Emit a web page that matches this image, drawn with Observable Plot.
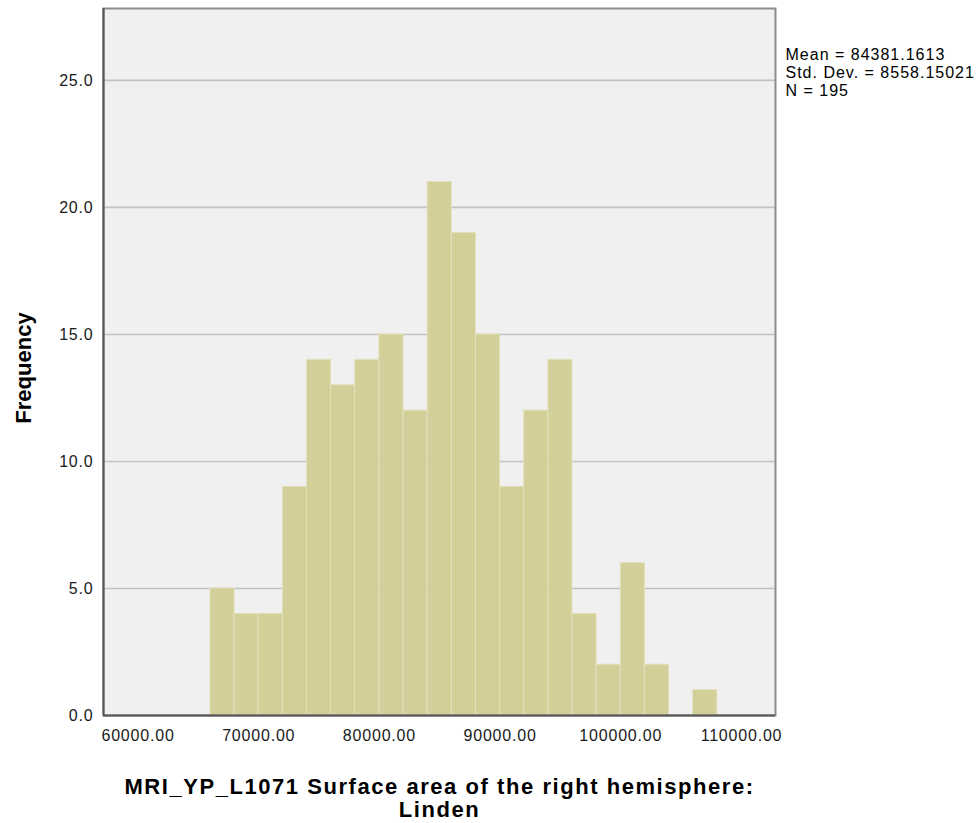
<!DOCTYPE html>
<html>
<head>
<meta charset="utf-8">
<script src="https://cdn.jsdelivr.net/npm/d3@7"></script>
<script src="https://cdn.jsdelivr.net/npm/@observablehq/plot@0.6"></script>
<style>
  html, body { margin: 0; padding: 0; background: #ffffff; }
  svg text { letter-spacing: 0.8px; }
</style>
</head>
<body>
<div id="chart"></div>
<script>
// ---- data ----
const binLower = [66000, 68000, 70000, 72000, 74000, 76000, 78000, 80000, 82000, 84000, 86000,
                  88000, 90000, 92000, 94000, 96000, 98000, 100000, 102000, 104000, 106000];
const binUpper = [68000, 70000, 72000, 74000, 76000, 78000, 80000, 82000, 84000, 86000, 88000,
                  90000, 92000, 94000, 96000, 98000, 100000, 102000, 104000, 106000, 108000];
const counts   = [5, 4, 4, 9, 14, 13, 14, 15, 12, 21, 19, 15, 9, 12, 14, 4, 2, 6, 2, 0, 1];
const xTicks = [60000, 70000, 80000, 90000, 100000, 110000];
const yTicks = [0, 5, 10, 15, 20, 25];
const xDomain = [57140, 112820];
const yDomain = [0, 27.83];
const statsLines = ["Mean = 84381.1613", "Std. Dev. = 8558.15021", "N = 195"];
const xTitle = "MRI_YP_L1071 Surface area of the right hemisphere:\nLinden";
const yTitle = "Frequency";

const bins = binLower.map((lo, i) => ({x1: lo, x2: binUpper[i], count: counts[i]}));

const chart = Plot.plot({
  width: 978,
  height: 823,
  marginLeft: 103,
  marginRight: 203,
  marginTop: 8,
  marginBottom: 108,
  style: {fontFamily: "'Liberation Sans', Arial, sans-serif", fontSize: "16px", color: "#1a1a1a", background: "#ffffff"},
  x: {domain: xDomain, ticks: xTicks, tickFormat: d => d.toFixed(2), tickSize: 0, tickPadding: 14, label: null},
  y: {domain: yDomain, ticks: yTicks, tickFormat: d => d.toFixed(1), tickSize: 0, tickPadding: 10, label: null},
  marks: [
    Plot.frame({fill: "#f0f0f0", stroke: null}),
    Plot.ruleY(yTicks.filter(d => d > 0), {stroke: "#c2c2c2", strokeWidth: 1.6}),
    Plot.rectY(bins.filter(d => d.count > 0), {x1: "x1", x2: "x2", y: "count", fill: "#d3cf98", stroke: "#e3e0bd", strokeWidth: 1}),
    Plot.frame({stroke: "#8c8c8c", strokeWidth: 2}),
    Plot.ruleY([yDomain[0]], {stroke: "#555555", strokeWidth: 2}),
    Plot.ruleX([xDomain[0]], {stroke: "#555555", strokeWidth: 2}),
    Plot.text([yTitle], {frameAnchor: "left", dx: -80, dy: 6, rotate: -90, textAnchor: "middle", fontWeight: "bold", fontSize: 22, fill: "#000"}),
    Plot.text([xTitle], {frameAnchor: "bottom", dy: 62, lineAnchor: "top", lineHeight: 1.05, fontWeight: "bold", fontSize: 22, fill: "#000"}),
    Plot.text([statsLines.join("\n")], {frameAnchor: "top-right", dx: 10, dy: 38, textAnchor: "start", lineAnchor: "top", lineHeight: 1.15, fontSize: 16, fill: "#000"})
  ]
});

const sel = d3.select(chart).selectAll("text");
sel.filter(function() { return this.textContent === yTitle; }).style("letter-spacing", "0px");
sel.filter(function() { return this.textContent.startsWith("MRI_"); }).style("letter-spacing", "1.55px");
sel.filter(function() { return this.textContent.startsWith("Mean"); }).style("letter-spacing", "1px");
document.getElementById("chart").appendChild(chart);
</script>
</body>
</html>
